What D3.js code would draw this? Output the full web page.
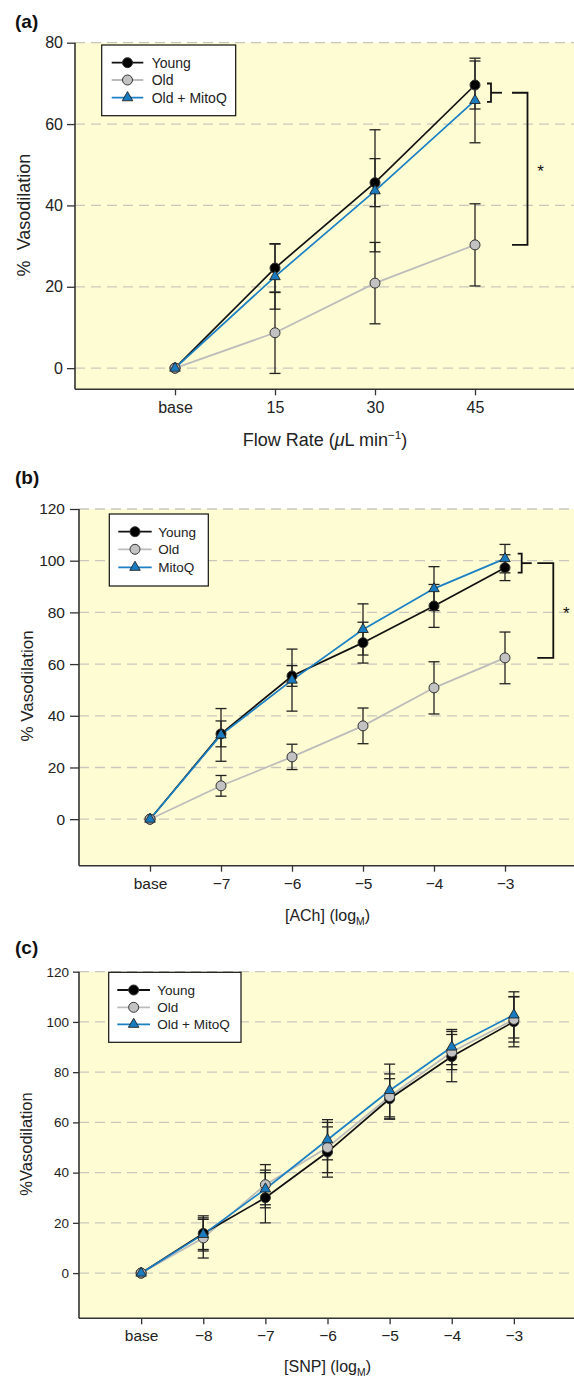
<!doctype html>
<meta charset="utf-8">
<title>Vasodilation panels</title>
<script src="https://cdn.jsdelivr.net/npm/d3@7"></script>
<style>
body, html { margin: 0; padding: 0; background: #fff; }
svg { display: block; font-family: Arial, "Liberation Sans", sans-serif; }
</style>
<svg id="chart" width="574" height="1379"></svg>
<script>
// ---- data ----
var seriesNames = ["Young", "Old", "Old + MitoQ"];
var seriesNamesB = ["Young", "Old", "MitoQ"];

// (a) flow-induced dilation
var aCats = ["base", "15", "30", "45"];
var aYoung = [0, 24.6, 45.6, 69.6];
var aYoungSE = [0, 6, 5.9, 5.9];
var aOld = [0, 8.7, 20.9, 30.3];
var aOldSE = [0, 10, 10, 10.1];
var aMito = [0, 22.5, 43.6, 65.8];
var aMitoSE = [0, 8, 15, 10.4];
var aYTicks = [0, 20, 40, 60, 80];

// (b) ACh
var bCats = ["base", "\u22127", "\u22126", "\u22125", "\u22124", "\u22123"];
var bYoung = [0, 33, 55.4, 68.3, 82.5, 97.3];
var bYoungSE = [0, 5, 4, 7.9, 8.3, 5];
var bOld = [0, 12.9, 24.1, 36.1, 50.8, 62.4];
var bOldSE = [0, 4, 4.9, 6.9, 10.1, 10];
var bMito = [0, 32.6, 53.8, 73.4, 89.2, 100.8];
var bMitoSE = [0, 10.2, 12, 9.9, 8.5, 5.5];
var bYTicks = [0, 20, 40, 60, 80, 100, 120];

// (c) SNP
var cCats = ["base", "\u22128", "\u22127", "\u22126", "\u22125", "\u22124", "\u22123"];
var cYoung = [0, 15.8, 30, 48.2, 69.4, 86.2, 100.1];
var cYoungSE = [0, 7, 10, 10, 8, 10, 10];
var cOld = [0, 14, 35.2, 50, 70.3, 88, 101];
var cOldSE = [0, 8, 8, 10, 9, 7, 9];
var cMito = [0, 15.4, 33.5, 53.1, 72.7, 90, 102.8];
var cMitoSE = [0, 6, 7.5, 8, 10.5, 7, 9.2];
var cYTicks = [0, 20, 40, 60, 80, 100, 120];

var svg = d3.select("#chart");
var BG = "#fefcd2", GRID = "#c9c7bd", AXIS = "#333";
var styles = {
  young: { line: "#111", fill: "#000", shape: "circle" },
  old:   { line: "#bcbcbc", fill: "#c2c2c2", shape: "circle" },
  mito:  { line: "#1b80c4", fill: "#1a7cc0", shape: "triangle" }
};

function marker(g, shape, x, y, fill) {
  if (shape === "circle") {
    g.append("circle").attr("cx", x).attr("cy", y).attr("r", 5)
      .attr("fill", fill).attr("stroke", "#333").attr("stroke-width", 1);
  } else {
    g.append("path").attr("transform", "translate(" + x + "," + y + ")")
      .attr("d", d3.symbol(d3.symbolTriangle, 48)())
      .attr("fill", fill).attr("stroke", "#222").attr("stroke-width", 0.9);
  }
}

function drawPanel(p) {
  var g = svg.append("g");
  var x = d3.scaleLinear().domain([-1, p.cats.length]).range([p.left, p.right]);
  var y = d3.scaleLinear().domain(p.yDomain).range([p.bottom, p.top]);

  g.append("rect").attr("x", p.left).attr("y", p.top)
    .attr("width", p.right - p.left).attr("height", p.bottom - p.top).attr("fill", BG);

  // dashed grid
  g.selectAll(".grid").data(p.yTicks).enter().append("line")
    .attr("x1", p.left).attr("x2", p.right)
    .attr("y1", function(d) { return y(d); }).attr("y2", function(d) { return y(d); })
    .attr("stroke", GRID).attr("stroke-width", 1.3).attr("stroke-dasharray", "10,6");

  // axes
  var yAxis = d3.axisLeft(y).tickValues(p.yTicks).tickSize(p.yTickLen).tickPadding(p.yPad);
  var ya = g.append("g").attr("transform", "translate(" + p.left + ",0)").call(yAxis);
  ya.select(".domain").attr("d", "M0," + p.top + "V" + p.bottom);
  ya.selectAll("line").attr("stroke", AXIS).attr("stroke-width", 1.3);
  ya.selectAll("text").attr("font-size", p.yFont).attr("fill", "#222");

  var xAxis = d3.axisBottom(x).tickValues(d3.range(p.cats.length))
    .tickFormat(function(i) { return p.cats[i]; }).tickSize(6).tickPadding(p.xPad);
  var xa = g.append("g").attr("transform", "translate(0," + p.bottom + ")").call(xAxis);
  xa.select(".domain").attr("d", "M" + p.left + ",0H" + p.right);
  xa.selectAll("line").attr("stroke", AXIS).attr("stroke-width", 1.3);
  xa.selectAll("text").attr("font-size", p.xFont).attr("fill", "#222");
  g.selectAll(".domain").attr("stroke", AXIS).attr("stroke-width", 1.6);

  var series = [
    { v: p.old, se: p.oldSE, s: styles.old },
    { v: p.young, se: p.youngSE, s: styles.young },
    { v: p.mito, se: p.mitoSE, s: styles.mito }
  ];
  var line = d3.line().x(function(d, i) { return x(i); }).y(function(d) { return y(d); });
  series.forEach(function(sr) {
    g.append("path").attr("d", line(sr.v)).attr("fill", "none")
      .attr("stroke", sr.s.line).attr("stroke-width", 1.7);
  });

  // error bars
  series.forEach(function(sr) {
    sr.v.forEach(function(v, i) {
      if (!sr.se[i]) return;
      var cx = x(i), y1 = y(v + sr.se[i]), y2 = y(v - sr.se[i]);
      var eg = g.append("g").attr("stroke", "#222").attr("stroke-width", 1.3);
      eg.append("line").attr("x1", cx).attr("x2", cx).attr("y1", y1).attr("y2", y2);
      eg.append("line").attr("x1", cx - 5.5).attr("x2", cx + 5.5).attr("y1", y1).attr("y2", y1);
      eg.append("line").attr("x1", cx - 5.5).attr("x2", cx + 5.5).attr("y1", y2).attr("y2", y2);
    });
  });

  // markers: young, old, mito on top
  [series[1], series[0], series[2]].forEach(function(sr) {
    sr.v.forEach(function(v, i) { marker(g, sr.s.shape, x(i), y(v), sr.s.fill); });
  });

  // legend
  var L = p.legend;
  g.append("rect").attr("x", L.x).attr("y", L.y).attr("width", L.w).attr("height", L.h)
    .attr("fill", "#fff").attr("stroke", "#111").attr("stroke-width", 1.2);
  [styles.young, styles.old, styles.mito].forEach(function(s, k) {
    var ry = L.rows[k];
    g.append("line").attr("x1", L.lx1).attr("x2", L.lx2).attr("y1", ry).attr("y2", ry)
      .attr("stroke", s.line).attr("stroke-width", 1.8);
    marker(g, s.shape, (L.lx1 + L.lx2) / 2, ry, s.fill);
    g.append("text").attr("x", L.tx).attr("y", ry + 5).attr("font-size", L.font)
      .attr("fill", "#222").text(p.names[k]);
  });

  // panel label
  g.append("text").attr("x", 15).attr("y", p.labelY).attr("font-size", 19)
    .attr("font-weight", "bold").attr("fill", "#111").text(p.label);

  // y title
  g.append("text").attr("transform", "translate(" + p.yTitle.x + "," + p.yTitle.y + ") rotate(-90)")
    .attr("text-anchor", "middle").attr("font-size", p.yTitle.font).attr("fill", "#222")
    .attr("xml:space", "preserve").text(p.yTitle.text);

  // x title
  var xt = g.append("text").attr("x", (p.left + p.right) / 2).attr("y", p.xTitle.y)
    .attr("text-anchor", "middle").attr("font-size", p.xTitle.font).attr("fill", "#222");
  p.xTitle.parts.forEach(function(pt) {
    var t = xt.append("tspan").text(pt.t);
    if (pt.italic) t.attr("font-style", "italic");
    if (pt.sup) t.attr("font-size", p.xTitle.font * 0.65).attr("dy", -7);
    if (pt.sub) t.attr("font-size", p.xTitle.font * 0.65).attr("dy", 4);
    if (pt.reset) t.attr("dy", pt.reset);
  });

  // significance brackets
  if (p.bracket) {
    var B = p.bracket, n = p.cats.length - 1;
    var yA = y(p.young[n]), yB = y(p.mito[n]);
    var top = Math.min(yA, yB) - B.pad, bot = Math.max(yA, yB) + B.pad;
    var mid = (top + bot) / 2, low = y(p.old[n]);
    var bx = x(n) + B.dx;
    var bg = g.append("g").attr("fill", "none").attr("stroke", "#111").attr("stroke-width", 1.8);
    bg.append("path").attr("d", "M" + (bx - 4) + "," + top + "H" + bx + "V" + bot + "H" + (bx - 4));
    bg.append("line").attr("x1", bx).attr("x2", bx + B.stub).attr("y1", mid).attr("y2", mid);
    var bx2 = bx + B.gap;
    bg.append("path").attr("d", "M" + bx2 + "," + mid + "H" + (bx2 + B.w) + "V" + low + "H" + bx2);
    g.append("text").attr("x", bx2 + B.w + 13).attr("y", (mid + low) / 2 + 8)
      .attr("text-anchor", "middle").attr("font-size", 17).attr("fill", "#111").text("*");
  }
}

drawPanel({
  label: "(a)", labelY: 28, names: seriesNames, cats: aCats,
  young: aYoung, youngSE: aYoungSE, old: aOld, oldSE: aOldSE, mito: aMito, mitoSE: aMitoSE,
  yTicks: aYTicks, yDomain: [-5.2, 80],
  left: 75, right: 575, top: 42.7, bottom: 389.3,
  yTickLen: 8, yPad: 4, yFont: 16, xFont: 16, xPad: 6,
  legend: { x: 101.7, y: 45, w: 134, h: 70.7, rows: [62.7, 80, 97.7], lx1: 111.7, lx2: 143.3, tx: 151.7, font: 14 },
  yTitle: { x: 30, y: 215, font: 18, text: "%  Vasodilation" },
  xTitle: { y: 446, font: 18, parts: [
    { t: "Flow Rate (" }, { t: "\u03bc", italic: true }, { t: "L min" },
    { t: "\u22121", sup: true }, { t: ")", reset: 7 }] },
  bracket: { dx: 16, pad: 1.5, stub: 11, gap: 21, w: 15.5 }
});

drawPanel({
  label: "(b)", labelY: 484, names: seriesNamesB, cats: bCats,
  young: bYoung, youngSE: bYoungSE, old: bOld, oldSE: bOldSE, mito: bMito, mitoSE: bMitoSE,
  yTicks: bYTicks, yDomain: [-18, 120],
  left: 79, right: 576, top: 509, bottom: 865.7,
  yTickLen: 9, yPad: 5, yFont: 15.5, xFont: 15.5, xPad: 6,
  legend: { x: 109.3, y: 514, w: 99, h: 72, rows: [531.7, 549.3, 567.3], lx1: 118.3, lx2: 151.7, tx: 158.3, font: 13.5 },
  yTitle: { x: 33, y: 686, font: 17, text: "% Vasodilation" },
  xTitle: { y: 921, font: 16, parts: [
    { t: "[ACh] (log" }, { t: "M", sub: true }, { t: ")", reset: -4 }] },
  bracket: { dx: 16.7, pad: 5, stub: 10, gap: 15.6, w: 16 }
});

drawPanel({
  label: "(c)", labelY: 954, names: seriesNames, cats: cCats,
  young: cYoung, youngSE: cYoungSE, old: cOld, oldSE: cOldSE, mito: cMito, mitoSE: cMitoSE,
  yTicks: cYTicks, yDomain: [-18, 120],
  left: 79, right: 576, top: 971.7, bottom: 1318.3,
  yTickLen: 6, yPad: 4, yFont: 13.5, xFont: 15.5, xPad: 6,
  legend: { x: 108.7, y: 972.3, w: 132.3, h: 70, rows: [990, 1007.3, 1024.3], lx1: 117.3, lx2: 150, tx: 157.3, font: 13.5 },
  yTitle: { x: 31.5, y: 1144, font: 16.5, text: "%Vasodilation" },
  xTitle: { y: 1372, font: 16, parts: [
    { t: "[SNP] (log" }, { t: "M", sub: true }, { t: ")", reset: -4 }] },
  bracket: null
});
</script>
